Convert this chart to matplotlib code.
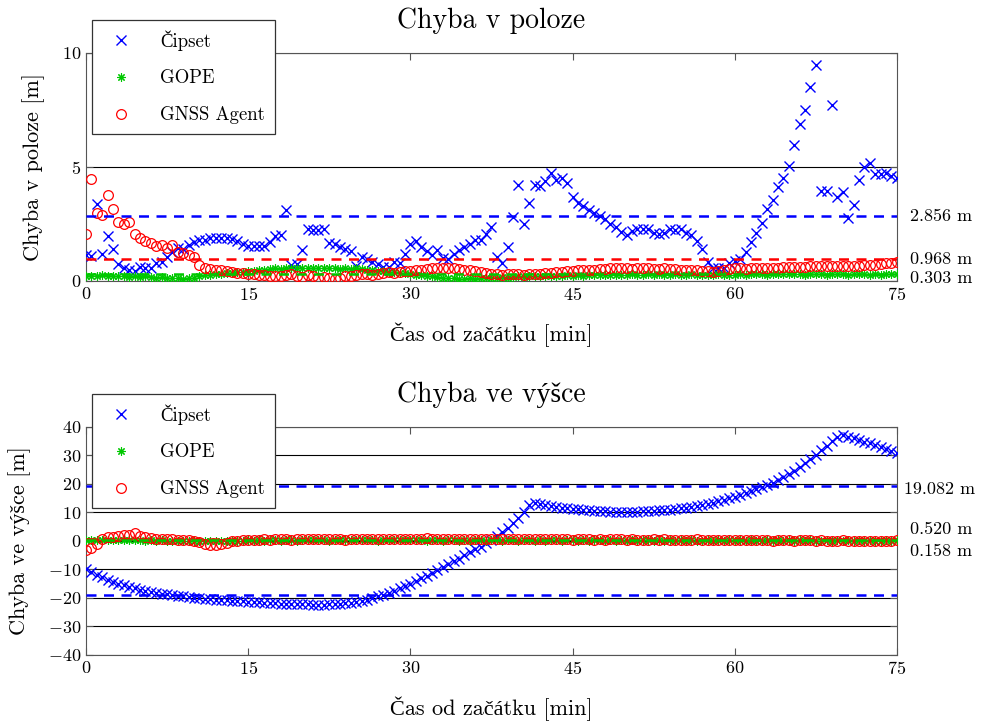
import numpy as np
import matplotlib
matplotlib.use('Agg')
import matplotlib.pyplot as plt

# Computer Modern look; letters with hacek/acute come from the fallback font
plt.rcParams['font.family'] = ['cmr10', 'Liberation Serif', 'DejaVu Serif']
plt.rcParams['mathtext.fontset'] = 'cm'
plt.rcParams['axes.unicode_minus'] = False
plt.rcParams['axes.formatter.use_mathtext'] = True

# ---- data (sampled every 0.5 min, 0..75 min) ----
series_names = ['Čipset', 'GOPE', 'GNSS Agent']

poloha_cipset = [
    1.15, 1.10, 3.36, 1.18, 1.97, 1.40, 0.75, 0.57, 0.48, 0.45,
    0.61, 0.57, 0.57, 0.80, 0.85, 1.07, 1.29, 1.43, 1.40, 1.58,
    1.72, 1.80, 1.80, 1.87, 1.87, 1.90, 1.90, 1.82, 1.75, 1.60,
    1.53, 1.53, 1.53, 1.53, 1.70, 1.97, 2.00, 3.10, 0.70, 0.75,
    1.36, 2.28, 2.25, 2.25, 2.30, 1.65, 1.60, 1.50, 1.40, 1.30,
    0.66, 1.05, 0.95, 0.85, 0.74, 0.60, 0.62, 0.85, 0.80, 1.17,
    1.60, 1.75, 1.50, 1.30, 1.14, 1.34, 1.00, 0.96, 1.20, 1.35,
    1.50, 1.60, 1.78, 1.80, 2.05, 2.38, 1.07, 0.80, 1.50, 2.80,
    4.20, 2.50, 3.42, 4.20, 4.15, 4.40, 4.73, 4.45, 4.50, 4.30,
    3.68, 3.42, 3.30, 3.10, 3.00, 2.86, 2.70, 2.50, 2.35, 2.15,
    2.00, 2.18, 2.27, 2.28, 2.30, 2.10, 2.05, 2.10, 2.30, 2.22,
    2.27, 2.12, 2.00, 1.75, 1.40, 0.85, 0.57, 0.57, 0.55, 0.80,
    0.88, 0.95, 1.29, 1.70, 2.12, 2.53, 3.14, 3.55, 4.10, 4.50,
    5.04, 5.96, 6.88, 7.50, 8.52, 9.47, 3.96, 3.96, 7.72, 3.70,
    3.92, 2.76, 3.33, 4.43, 5.01, 5.16, 4.69, 4.70, 4.75, 4.60,
    4.50]

poloha_gope = [
    0.22, 0.20, 0.23, 0.25, 0.22, 0.20, 0.22, 0.20, 0.18, 0.20,
    0.17, 0.20, 0.18, 0.15, 0.17, 0.15, 0.13, 0.12, 0.10, 0.12,
    0.15, 0.20, 0.25, 0.28, 0.30, 0.32, 0.35, 0.33, 0.38, 0.40,
    0.42, 0.45, 0.48, 0.50, 0.52, 0.55, 0.53, 0.55, 0.58, 0.56,
    0.55, 0.57, 0.55, 0.58, 0.56, 0.55, 0.57, 0.54, 0.55, 0.52,
    0.55, 0.53, 0.50, 0.48, 0.45, 0.42, 0.40, 0.38, 0.35, 0.33,
    0.30, 0.28, 0.25, 0.22, 0.20, 0.18, 0.15, 0.13, 0.12, 0.10,
    0.10, 0.12, 0.10, 0.13, 0.15, 0.12, 0.15, 0.17, 0.15, 0.18,
    0.20, 0.18, 0.20, 0.22, 0.20, 0.22, 0.23, 0.20, 0.22, 0.25,
    0.22, 0.25, 0.23, 0.25, 0.27, 0.25, 0.27, 0.28, 0.25, 0.27,
    0.28, 0.30, 0.28, 0.27, 0.30, 0.28, 0.30, 0.27, 0.28, 0.30,
    0.28, 0.27, 0.30, 0.28, 0.25, 0.27, 0.28, 0.30, 0.28, 0.27,
    0.28, 0.30, 0.28, 0.30, 0.32, 0.30, 0.28, 0.30, 0.32, 0.30,
    0.30, 0.32, 0.30, 0.28, 0.30, 0.32, 0.30, 0.28, 0.30, 0.32,
    0.30, 0.28, 0.30, 0.32, 0.30, 0.28, 0.30, 0.28, 0.30, 0.32,
    0.30]

poloha_agent = [
    2.06, 4.46, 2.97, 2.90, 3.77, 3.14, 2.60, 2.50, 2.60, 2.06,
    1.87, 1.77, 1.65, 1.53, 1.57, 1.43, 1.57, 1.29, 1.21, 1.14,
    1.07, 0.70, 0.57, 0.52, 0.50, 0.47, 0.44, 0.40, 0.37, 0.35,
    0.32, 0.30, 0.28, 0.25, 0.22, 0.20, 0.20, 0.28, 0.30, 0.22,
    0.18, 0.25, 0.20, 0.15, 0.18, 0.12, 0.10, 0.15, 0.20, 0.22,
    0.25, 0.30, 0.32, 0.28, 0.30, 0.35, 0.38, 0.35, 0.40, 0.42,
    0.45, 0.48, 0.50, 0.52, 0.55, 0.55, 0.58, 0.56, 0.55, 0.52,
    0.50, 0.48, 0.42, 0.38, 0.35, 0.32, 0.30, 0.28, 0.30, 0.32,
    0.30, 0.28, 0.30, 0.32, 0.30, 0.33, 0.35, 0.38, 0.40, 0.42,
    0.45, 0.47, 0.48, 0.50, 0.50, 0.52, 0.53, 0.55, 0.55, 0.56,
    0.55, 0.54, 0.56, 0.57, 0.55, 0.54, 0.53, 0.55, 0.54, 0.52,
    0.50, 0.50, 0.48, 0.47, 0.45, 0.42, 0.40, 0.45, 0.48, 0.52,
    0.55, 0.55, 0.54, 0.55, 0.56, 0.55, 0.56, 0.57, 0.58, 0.60,
    0.60, 0.62, 0.62, 0.63, 0.64, 0.65, 0.65, 0.64, 0.65, 0.66,
    0.65, 0.66, 0.65, 0.66, 0.68, 0.70, 0.72, 0.75, 0.78, 0.80,
    0.85]

vyska_cipset = [
    -10.0, -11.0, -12.0, -12.8, -13.6, -14.3, -15.0, -15.6, -16.1, -16.6,
    -17.1, -17.5, -17.8, -18.2, -18.5, -18.8, -19.1, -19.3, -19.5, -19.7,
    -19.9, -20.1, -20.3, -20.5, -20.6, -20.8, -20.9, -21.0, -21.1, -21.2,
    -21.3, -21.4, -21.6, -21.7, -21.8, -21.9, -22.0, -22.1, -22.2, -22.2,
    -22.3, -22.3, -22.4, -22.4, -22.4, -22.3, -22.2, -22.1, -21.9, -21.7,
    -21.4, -21.0, -20.6, -20.1, -19.5, -19.0, -18.3, -17.5, -16.7, -15.9,
    -15.0, -14.1, -13.2, -12.2, -11.2, -10.2, -9.2, -8.2, -7.2, -6.2,
    -5.1, -4.0, -3.0, -2.0, -0.8, 0.4, 1.6, 3.0, 4.5, 6.2,
    8.0, 10.0, 12.5, 13.2, 12.9, 12.6, 12.3, 12.0, 11.7, 11.5,
    11.3, 11.1, 10.9, 10.7, 10.6, 10.5, 10.4, 10.3, 10.3, 10.2,
    10.2, 10.3, 10.3, 10.4, 10.5, 10.6, 10.7, 10.9, 11.0, 11.2,
    11.4, 11.7, 12.0, 12.3, 12.6, 13.0, 13.4, 13.9, 14.4, 14.9,
    15.5, 16.1, 16.7, 17.4, 18.1, 18.8, 19.6, 20.4, 21.3, 22.3,
    23.4, 24.6, 25.9, 27.3, 28.8, 30.3, 31.8, 33.4, 35.0, 36.6,
    37.0, 36.6, 36.0, 35.4, 34.8, 34.2, 33.6, 33.0, 32.3, 31.6,
    30.9]

vyska_gope = [
    0.3, 0.2, 0.4, 0.3, 0.4, 0.3, 0.3, 0.2, 0.3, 0.2,
    0.2, 0.1, 0.2, 0.1, 0.2, 0.1, 0.1, 0.0, 0.1, 0.1,
    0.1, 0.0, 0.1, 0.0, -0.1, 0.0, 0.1, 0.0, 0.1, 0.1,
    0.2, 0.1, 0.2, 0.1, 0.2, 0.2, 0.1, 0.2, 0.2, 0.1,
    0.2, 0.2, 0.3, 0.2, 0.2, 0.1, 0.2, 0.2, 0.3, 0.2,
    0.2, 0.3, 0.2, 0.2, 0.1, 0.2, 0.2, 0.3, 0.2, 0.2,
    0.3, 0.2, 0.2, 0.1, 0.2, 0.2, 0.1, 0.2, 0.2, 0.1,
    0.2, 0.1, 0.2, 0.2, 0.1, 0.2, 0.2, 0.1, 0.2, 0.2,
    0.1, 0.2, 0.2, 0.1, 0.2, 0.1, 0.2, 0.2, 0.1, 0.2,
    0.2, 0.1, 0.2, 0.1, 0.2, 0.2, 0.1, 0.2, 0.1, 0.2,
    0.1, 0.2, 0.1, 0.2, 0.2, 0.1, 0.2, 0.1, 0.2, 0.1,
    0.2, 0.1, 0.2, 0.1, 0.1, 0.2, 0.1, 0.2, 0.1, 0.2,
    0.1, 0.2, 0.1, 0.2, 0.1, 0.1, 0.2, 0.1, 0.2, 0.1,
    0.2, 0.1, 0.2, 0.1, 0.2, 0.1, 0.1, 0.2, 0.1, 0.2,
    0.1, 0.2, 0.1, 0.2, 0.1, 0.2, 0.1, 0.1, 0.2, 0.1,
    0.2]

vyska_agent = [
    -3.2, -2.5, -1.0, 0.5, 1.2, 1.5, 1.8, 2.0, 2.2, 2.7,
    1.8, 1.2, 0.9, 0.7, 0.6, 0.5, 0.6, 0.4, 0.3, 0.2,
    0.0, -0.5, -1.0, -1.3, -1.4, -1.1, -0.6, -0.2, 0.0, 0.2,
    0.3, 0.4, 0.3, 0.5, 0.4, 0.5, 0.6, 0.5, 0.4, 0.5,
    0.6, 0.5, 0.6, 0.7, 0.6, 0.5, 0.6, 0.5, 0.4, 0.5,
    0.6, 0.7, 0.6, 0.5, 0.6, 0.7, 0.8, 0.7, 0.6, 0.7,
    0.8, 0.7, 0.8, 0.9, 0.8, 0.7, 0.8, 0.7, 0.6, 0.7,
    0.8, 0.7, 0.6, 0.7, 0.8, 0.7, 0.6, 0.5, 0.6, 0.7,
    0.6, 0.7, 0.8, 0.7, 0.6, 0.7, 0.6, 0.5, 0.6, 0.5,
    0.4, 0.5, 0.6, 0.5, 0.4, 0.5, 0.4, 0.5, 0.6, 0.5,
    0.4, 0.5, 0.4, 0.3, 0.4, 0.5, 0.4, 0.5, 0.4, 0.3,
    0.4, 0.3, 0.4, 0.5, 0.4, 0.3, 0.2, 0.3, 0.4, 0.3,
    0.2, 0.3, 0.4, 0.3, 0.2, 0.3, 0.2, 0.1, 0.2, 0.3,
    0.2, 0.1, 0.2, 0.3, 0.2, 0.1, 0.2, 0.1, 0.0, 0.1,
    0.2, 0.1, 0.0, 0.1, 0.0, -0.1, 0.0, 0.1, 0.0, 0.1,
    0.2]

# mean errors (dashed lines + labels on the right)
poloha_means = [2.856, 0.303, 0.968]
vyska_means = [19.082, 0.158, 0.520]

xlabel = 'Čas od začátku [min]'
title_poloha = 'Chyba v poloze'
title_vyska = 'Chyba ve výšce'
ylabel_poloha = 'Chyba v poloze [m]'
ylabel_vyska = 'Chyba ve výšce [m]'

colors = ['#0000ff', '#00c800', '#ff0000']
markers = ['x', (8, 2, 0), 'o']

t = np.arange(len(poloha_cipset)) * 0.5

fig = plt.figure(figsize=(9.95, 7.26), dpi=100)
ax1 = fig.add_axes([0.0864, 0.613, 0.815, 0.314])
ax2 = fig.add_axes([0.0864, 0.098, 0.815, 0.314])


def draw(ax, data, title, ylabel):
    for vals, name, c, m in zip(data, series_names, colors, markers):
        if m == 'o':
            ax.plot(t, vals, ls='none', marker=m, mfc='none', mec=c, ms=7, mew=0.9, label=name, zorder=4)
        elif m == 'x':
            ax.plot(t, vals, ls='none', marker=m, color=c, ms=7, mew=1.0, label=name, zorder=3)
        else:
            ax.plot(t, vals, ls='none', marker=m, color=c, ms=6, mew=0.8, label=name, zorder=3)
    ax.set_xlim(0, 75)
    ax.set_xticks([0, 15, 30, 45, 60, 75])
    ax.yaxis.grid(True, color='black', lw=0.8)
    ax.set_axisbelow(True)
    ax.tick_params(direction='in', top=True, right=True, labelsize=13, length=5, color='#555555')
    for s in ax.spines.values():
        s.set_color('#555555')
    ax.set_title(title, fontsize=20, pad=18)
    ax.set_xlabel(xlabel, fontsize=16, labelpad=14)
    ax.set_ylabel(ylabel, fontsize=16, labelpad=12)
    leg = ax.legend(loc='upper left', bbox_to_anchor=(0.007, 1.145), fancybox=False,
                    edgecolor='#333333', framealpha=1, fontsize=13.5, labelspacing=1.0,
                    handletextpad=1.1, borderpad=0.55, borderaxespad=0)
    leg.get_frame().set_linewidth(0.9)
    leg.set_zorder(10)


draw(ax1, [poloha_cipset, poloha_gope, poloha_agent], title_poloha, ylabel_poloha)
ax1.set_ylim(0, 10)
ax1.set_yticks([0, 5, 10])
for v, c in zip(poloha_means, colors):
    ax1.plot([0, 75], [v, v], ls='--', color=c, lw=1.8, dashes=(4, 3), zorder=5)
ax1.text(76.2, poloha_means[0], '%.3f m' % poloha_means[0], fontsize=13, va='center')
ax1.text(76.2, poloha_means[2], '%.3f m' % poloha_means[2], fontsize=13, va='center')
ax1.text(76.2, 0.13, '%.3f m' % poloha_means[1], fontsize=13, va='center')

draw(ax2, [vyska_cipset, vyska_gope, vyska_agent], title_vyska, ylabel_vyska)
ax2.set_ylim(-40, 40)
ax2.set_yticks(np.arange(-40, 41, 10))
ax2.plot([0, 75], [vyska_means[0], vyska_means[0]], ls='--', color=colors[0], lw=1.8, dashes=(4, 3), zorder=5)
ax2.plot([0, 75], [-vyska_means[0], -vyska_means[0]], ls='--', color=colors[0], lw=1.8, dashes=(4, 3), zorder=5)
ax2.plot([0, 75], [vyska_means[2], vyska_means[2]], ls='--', color=colors[2], lw=1.8, dashes=(4, 3), zorder=5)
ax2.plot([0, 75], [vyska_means[1], vyska_means[1]], ls='--', color=colors[1], lw=1.8, dashes=(4, 3), zorder=5)
ax2.text(75.7, 18.2, '%.3f m' % vyska_means[0], fontsize=13, va='center')
ax2.text(76.2, 3.9, '%.3f m' % vyska_means[2], fontsize=13, va='center')
ax2.text(76.2, -3.5, '%.3f m' % vyska_means[1], fontsize=13, va='center')

fig.savefig('out.png', dpi=100)
